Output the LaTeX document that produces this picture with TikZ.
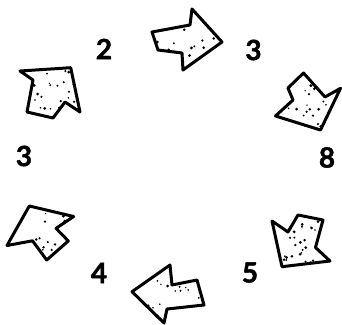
\documentclass[tikz,border=0pt]{standalone}
\usepackage{fontspec}
\setmainfont{Lato}
\newfontfamily\numfont{Lato}[BoldFeatures={FakeBold=1.6}]
\newcommand\stipplearrow[5]{%
  \fill[white] #1 -- cycle;
  \begin{scope}
    \clip #1 -- cycle;
    \foreach \k in {1,...,34}{%
      \pgfmathsetmacro\px{#2+rnd*(#4-#2)}%
      \pgfmathsetmacro\py{#3+rnd*(#5-#3)}%
      \pgfmathsetmacro\pr{0.7+rnd*0.9}%
      \fill[black] (\px,\py) circle[radius=\pr bp];
    }
  \end{scope}
  \draw[blk] #1 -- cycle;
}
\begin{document}
\begin{tikzpicture}[x=1bp,y=-1bp,
  blk/.style={draw=black, line width=3bp, line join=round},
  num/.style={font=\fontsize{28}{30}\numfont\bfseries, inner sep=0pt}]
\useasboundingbox (0,0) rectangle (342,325);
\pgfmathsetseed{4711}
% upper-left arrow
\stipplearrow{(70.7,67.7) -- (80,112) -- (65,102) -- (53,118) -- (27,112) -- (33,80) -- (20,71)}{20}{67}{80}{118}
% top arrow
\stipplearrow{(222,42) -- (183,70) -- (182,53) -- (158,50) -- (152,32) -- (190,25) -- (192,9)}{152}{9}{222}{70}
% upper-right arrow
\stipplearrow{(320.5,130) -- (275.5,116) -- (293,100) -- (288,88) -- (303.5,73) -- (325,97) -- (340.5,88.3)}{275}{73}{341}{130}
% lower-right arrow
\stipplearrow{(282,266.7) -- (272,221) -- (288,232) -- (298,215) -- (323,220) -- (315.5,247.5) -- (330,261)}{272}{215}{330}{267}
% bottom arrow
\stipplearrow{(132,291.7) -- (170,265) -- (172,285) -- (197,280) -- (204,305) -- (167,309) -- (164,323)}{132}{265}{204}{323}
% lower-left arrow
\stipplearrow{(29.3,206) -- (73.7,216.5) -- (56,228.3) -- (68.3,241) -- (46.7,260) -- (32.5,240.8) -- (7,245.5)}{7}{206}{74}{260}
% numbers
\node[num] (n2)  at (104,49)    {2};
\node[num] (n3a) at (253.5,50)  {3};
\node[num] (n8)  at (327,157.5) {8};
\node[num] (n3b) at (24,156)    {3};
\node[num] (n4)  at (99,273)    {4};
\node[num] (n5)  at (250,272.5) {5};
\end{tikzpicture}
\end{document}
